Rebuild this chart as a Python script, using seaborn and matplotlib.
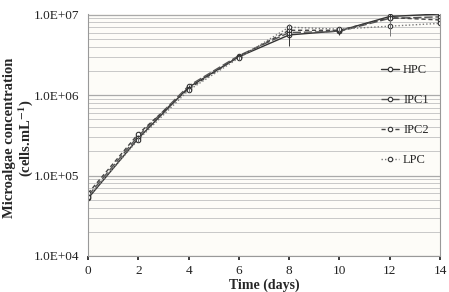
import numpy as np
import pandas as pd
import matplotlib
matplotlib.use("Agg")
import matplotlib.pyplot as plt
import seaborn as sns
from matplotlib.ticker import LogLocator, FixedLocator

days = [0, 2, 4, 6, 8, 10, 12, 14]
hpc = [5.2e4, 2.9e5, 1.25e6, 3.0e6, 5.6e6, 6.3e6, 9.5e6, 1.02e7]
ipc1 = [5.6e4, 3.1e5, 1.3e6, 3.1e6, 6.0e6, 6.2e6, 9.0e6, 9.4e6]
ipc2 = [6.0e4, 3.3e5, 1.2e6, 3.0e6, 6.4e6, 6.4e6, 9.2e6, 8.6e6]
lpc = [5.4e4, 2.8e5, 1.15e6, 2.9e6, 7.0e6, 6.6e6, 7.2e6, 7.8e6]
hpc_err = [8e3, 2.5e4, 8e4, 2e5, 1.5e6, 7e5, 2.5e6, 1.2e6]
lpc_err = [6e3, 2e4, 6e4, 1.5e5, 6e5, 5e5, 1.8e6, 1.5e6]
series_names = ["HPC", "IPC1", "IPC2", "LPC"]
ytick_labels = ["1.0E+04", "1.0E+05", "1.0E+06", "1.0E+07"]

df = pd.DataFrame({
    "day": days * 4,
    "conc": hpc + ipc1 + ipc2 + lpc,
    "series": sum([[n] * len(days) for n in series_names], []),
})

sns.set_theme(style="white")
plt.rcParams["font.family"] = ["Liberation Serif", "DejaVu Serif"]
plt.rcParams["mathtext.fontset"] = "stix"

fig = plt.figure(figsize=(4.49, 2.92), dpi=100)
ax = fig.add_axes([88 / 449, 1 - 256 / 292, (440 - 88) / 449, (256 - 14) / 292])
ax.set_facecolor("#fdfcf8")

dashes = {"HPC": (), "IPC1": (6, 2), "IPC2": (3, 2), "LPC": (1, 1.5)}
colors = {"HPC": "#333333", "IPC1": "#555555", "IPC2": "#444444", "LPC": "#777777"}

sns.lineplot(data=df, x="day", y="conc", hue="series", style="series",
             palette=colors, dashes=dashes,
             markers=["o"] * 4, markersize=3.2, markerfacecolor="white",
             markeredgecolor="#333333", markeredgewidth=0.8, linewidth=1.0,
             ax=ax, legend=True)

ax.errorbar(days, hpc, yerr=hpc_err, fmt="none", ecolor="#333333", elinewidth=0.7, capsize=0)
ax.errorbar(days, lpc, yerr=lpc_err, fmt="none", ecolor="#777777", elinewidth=0.7, capsize=0)

ax.set_yscale("log")
ax.set_ylim(1e4, 1.02e7)
ax.set_xlim(0, 14)
ax.set_xticks(range(0, 15, 2))
ax.yaxis.set_major_locator(FixedLocator([1e4, 1e5, 1e6, 1e7]))
ax.set_yticklabels(ytick_labels)
ax.yaxis.set_minor_locator(LogLocator(base=10, subs=np.arange(2, 10)))
ax.yaxis.set_minor_formatter(plt.NullFormatter())
ax.grid(True, which="major", axis="y", color="#aaaaaa", linewidth=0.9)
ax.grid(True, which="minor", axis="y", color="#c8c8c8", linewidth=0.7)
ax.tick_params(axis="both", labelsize=9.5, colors="#222222", length=3, direction="out")
ax.tick_params(axis="y", which="minor", length=0)
ax.tick_params(axis="x", bottom=True)

ax.spines["top"].set_visible(False)
for s in ["left", "bottom", "right"]:
    ax.spines[s].set_color("#999999")
    ax.spines[s].set_linewidth(0.8)

ax.set_xlabel("Time (days)", fontsize=10, fontweight="bold", labelpad=1)
ax.set_ylabel("")
fig.text(19 / 449, 1 - 138 / 292, "Microalgae concentration\n(cells.mL$^{\\mathbf{-1}}$)",
         fontsize=10.5, fontweight="bold", rotation=90, ha="center", va="center",
         linespacing=1.05, multialignment="center")

leg = ax.legend(title=None, loc="upper right", bbox_to_anchor=(1.0, 0.84),
                frameon=False, fontsize=9, labelspacing=1.45, handlelength=1.5,
                handletextpad=0.3)

fig.savefig("out.png", dpi=100)
